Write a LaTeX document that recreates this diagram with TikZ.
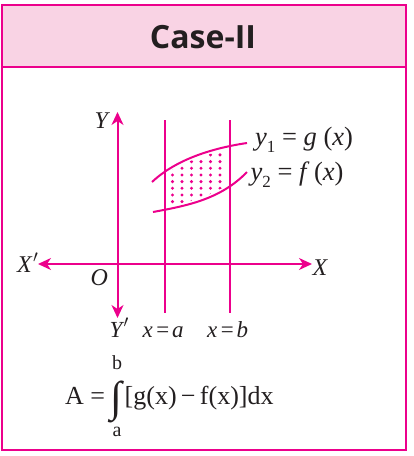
\documentclass[tikz,border=0pt]{standalone}
\usepackage{fontspec}
\setmainfont{Liberation Serif}
\newfontfamily\titlefont{Open Sans}
\usetikzlibrary{arrows.meta}
\definecolor{mag}{RGB}{236,0,140}
\definecolor{hdr}{RGB}{249,211,228}
\definecolor{ink}{RGB}{35,31,32}
\begin{document}
\begin{tikzpicture}[x=1pt,y=-1pt,
  frame/.style={draw=mag,line width=2.5pt},
  axisline/.style={draw=mag,line width=2pt,{Stealth[length=13pt,width=12pt,inset=4pt]}-{Stealth[length=13pt,width=12pt,inset=4pt]}},
  vline/.style={draw=mag,line width=2pt},
  curve/.style={draw=mag,line width=2pt},
  biglab/.style={inner sep=0pt,anchor=base west,text=ink,font=\fontsize{24}{24}\selectfont\itshape},
  smalllab/.style={inner sep=0pt,anchor=base west,text=ink,font=\fontsize{23}{23}\selectfont\itshape},
  curvelab/.style={inner sep=0pt,anchor=base west,text=ink,font=\fontsize{26.5}{26}\selectfont},
  formula/.style={inner sep=0pt,anchor=base west,text=ink,font=\fontsize{26}{26}\selectfont},
  limlab/.style={inner sep=0pt,anchor=base,text=ink,font=\fontsize{20}{20}\selectfont},
  dotmark/.style={fill=mag}
]
\useasboundingbox (0,0) rectangle (414,456);
% frame and header
\fill[hdr] (2,5) rectangle (406,67);
\draw[frame] (2,5) rectangle (406,450);
\draw[frame] (2,67) -- (406,67);
\node[inner sep=0pt,anchor=base,text=ink,font=\titlefont\bfseries\fontsize{32}{32}\selectfont] (title) at (203,48) {Case-II};
% axes
\coordinate (ytop) at (117.5,112);
\coordinate (ybot) at (117.5,318);
\coordinate (xleft) at (38,264);
\coordinate (xright) at (312,264);
\draw[axisline] (ybot) -- (ytop);
\draw[axisline] (xleft) -- (xright);
% vertical lines
\coordinate (atop) at (165,120);
\coordinate (abot) at (165,313);
\coordinate (btop) at (229.5,120);
\coordinate (bbot) at (229.5,313);
\draw[vline] (atop) -- (abot);
\draw[vline] (btop) -- (bbot);
% dots between curves
\begin{scope}
\clip (168,0) rectangle (226,456);
\clip (152,185) .. controls (170,168) and (200,153) .. (247,146)
   -- (247,169) .. controls (220,197) and (185,203) .. (153,209) -- cycle;
\foreach \i in {0,...,5}{
  \foreach \j in {0,...,12}{
    \fill[dotmark] ({172.5+9.5*\i},{141.6+6.67*\j}) circle (1.7pt);
  }
}
\end{scope}
% curves
\coordinate (gs) at (152,182);
\coordinate (ge) at (247,143);
\coordinate (fs) at (153,212);
\coordinate (fe) at (247,172);
\draw[curve] (gs) .. controls (170,165) and (200,150) .. (ge);
\draw[curve] (fs) .. controls (185,206) and (220,200) .. (fe);
% labels
\node[biglab] (Ylab) at (94.5,128) {Y};
\node[biglab] (Xplab) at (17,272) {X\kern0.05em$'$};
\node[biglab] (Olab) at (90.5,285.5) {O};
\node[biglab] (Xlab) at (312.5,275) {X};
\node[smalllab] (Yplab) at (109.5,337) {Y\kern0.05em$'$};
\node[smalllab] (alab) at (142.5,337) {x\kern0.08em=\kern0.08em a};
\node[smalllab] (blab) at (207,337) {x\kern0.08em=\kern0.08em b};
\node[curvelab] (glab) at (255,145) {\textit{y}\raisebox{-0.3em}{\fontsize{17}{17}\selectfont 1} = \textit{g} (\textit{x})};
\node[curvelab] (flab) at (250.5,180) {\textit{y}\raisebox{-0.3em}{\fontsize{17}{17}\selectfont 2} = \textit{f}\,(\textit{x})};
% formula
\node[formula] (lhs) at (65,404) {A =};
\node[inner sep=0pt,text=ink] (intsign) at (116,401.5) {\resizebox*{!}{42pt}{\fontsize{26}{26}\selectfont ∫}};
\node[formula] (rhs) at (124.5,404) {[g(x)\,−\,f(x)]dx};
\node[limlab] (uplim) at (117,369) {b};
\node[limlab] (lolim) at (117,436) {a};
\end{tikzpicture}
\end{document}
